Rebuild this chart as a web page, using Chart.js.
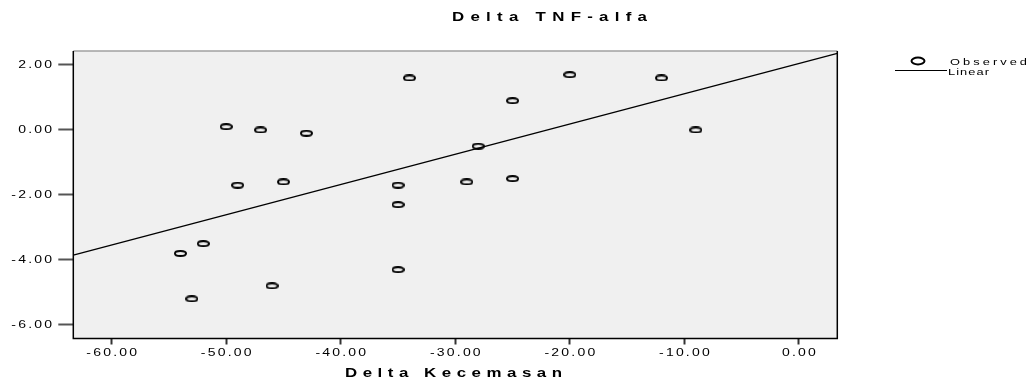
<!DOCTYPE html>
<html>
<head>
<meta charset="utf-8">
<title>Delta TNF-alfa</title>
<script src="https://cdn.jsdelivr.net/npm/chart.js@4.4.1/dist/chart.umd.min.js"></script>
<style>
  html, body { margin: 0; padding: 0; background: #fff; }
  canvas { display: block; }
</style>
</head>
<body>
<canvas id="scatterChart" width="1034" height="385"></canvas>
<script>
const chartTitle = "Delta TNF-alfa";
const xAxisTitle = "Delta Kecemasan";
const legendLabels = ["Observed", "Linear"];

// Observed points: Delta Kecemasan (x) vs Delta TNF-alfa (y)
const kecemasan = [-54, -53, -52, -50, -49, -47, -46, -45, -43, -35, -35, -35, -34, -29, -28, -25, -25, -20, -12, -9];
const tnfAlfa = [-3.8, -5.2, -3.5, 0.1, -1.7, 0.0, -4.8, -1.6, -0.1, -1.7, -2.3, -4.3, 1.6, -1.6, -0.5, 0.9, -1.5, 1.7, 1.6, 0.0];

// Linear fit line, ends read at the plot edges
const fitX = [-63.35, 3.35];
const fitY = [-3.85, 2.36];

const xTicks = [-60, -50, -40, -30, -20, -10, 0];
const yTicks = [-6, -4, -2, 0, 2];
const xRange = [-63.35, 3.35];
const yRange = [-6.42, 2.43];

const FONT = '"Liberation Sans", Arial, sans-serif';

// hollow ellipse used as the point marker
function ellipseMarker(w, h, lw) {
    const c = document.createElement("canvas");
    c.width = w;
    c.height = h;
    const g = c.getContext("2d");
    g.beginPath();
    g.ellipse(w / 2, h / 2, w / 2 - lw / 2, h / 2 - lw / 2, 0, 0, Math.PI * 2);
    g.lineWidth = lw;
    g.strokeStyle = "#000";
    g.stroke();
    return c;
}

// width of text drawn with horizontal stretch sx and extra spacing
function textWidth(ctx, text, sx, spacing) {
    return ctx.measureText(text).width * sx + spacing * (text.length - 1);
}

// SPSS-like wide text: each glyph stretched by sx, then spaced out
function wideText(ctx, text, x, y, sx, spacing, align) {
    const w = textWidth(ctx, text, sx, spacing);
    let cx = x;
    if (align === "center") cx = x - w / 2;
    if (align === "right") cx = x - w;
    ctx.textAlign = "left";
    for (const ch of text) {
        ctx.save();
        ctx.translate(cx, y);
        ctx.scale(sx, 1);
        ctx.fillText(ch, 0, 0);
        ctx.restore();
        cx += ctx.measureText(ch).width * sx + spacing;
    }
}

// stretch text between two x positions
function fitText(ctx, text, x0, x1, y, sx) {
    const spacing = (x1 - x0 - ctx.measureText(text).width * sx) / (text.length - 1);
    wideText(ctx, text, x0, y, sx, spacing, "left");
}

const spssFrame = {
    id: "spssFrame",
    beforeDraw(chart) {
        const { ctx, chartArea: a } = chart;
        ctx.save();
        ctx.fillStyle = "#f0f0f0";
        ctx.fillRect(a.left, a.top, a.right - a.left, a.bottom - a.top);
        ctx.restore();
    },
    afterDatasetsDraw(chart) {
        const { ctx, chartArea: a } = chart;
        ctx.save();
        ctx.lineWidth = 1.5;
        ctx.strokeStyle = "#a0a0a0";
        ctx.beginPath();
        ctx.moveTo(a.left, a.top);
        ctx.lineTo(a.right, a.top);
        ctx.stroke();
        ctx.strokeStyle = "#000";
        ctx.beginPath();
        ctx.moveTo(a.right, a.top);
        ctx.lineTo(a.right, a.bottom);
        ctx.lineTo(a.left, a.bottom);
        ctx.lineTo(a.left, a.top);
        ctx.stroke();
        ctx.restore();
    },
    afterDraw(chart) {
        const ctx = chart.ctx;
        const xs = chart.scales.x, ys = chart.scales.y;
        ctx.save();
        ctx.fillStyle = "#000";

        // tick labels
        ctx.font = "10px " + FONT;
        ctx.textBaseline = "middle";
        yTicks.forEach(v => {
            wideText(ctx, v.toFixed(2), 52, ys.getPixelForValue(v), 1.4, 2.2, "right");
        });
        xTicks.forEach(v => {
            wideText(ctx, v.toFixed(2), xs.getPixelForValue(v), 353, 1.4, 2.2, "center");
        });

        // titles
        ctx.textBaseline = "alphabetic";
        ctx.font = "bold 12.5px " + FONT;
        fitText(ctx, chartTitle, 452, 647, 21, 1.35);
        fitText(ctx, xAxisTitle, 345, 562, 376.5, 1.35);

        // legend
        ctx.strokeStyle = "#000";
        ctx.lineWidth = 2;
        ctx.beginPath();
        ctx.ellipse(918, 61, 6.5, 3.4, 0, 0, Math.PI * 2);
        ctx.stroke();
        ctx.lineWidth = 1.2;
        ctx.beginPath();
        ctx.moveTo(895, 70.5);
        ctx.lineTo(947, 70.5);
        ctx.stroke();
        ctx.font = "9.5px " + FONT;
        fitText(ctx, legendLabels[0], 950, 1027, 64.5, 1.35);
        fitText(ctx, legendLabels[1], 948, 989, 74.5, 1.35);
        ctx.restore();
    }
};

const ctx = document.getElementById("scatterChart").getContext("2d");
new Chart(ctx, {
    type: "scatter",
    data: {
        datasets: [{
            label: legendLabels[0],
            data: kecemasan.map((x, i) => ({ x: x, y: tnfAlfa[i] })),
            pointStyle: ellipseMarker(13, 7, 2),
            pointRadius: 6,
            pointHoverRadius: 6,
            showLine: false
        }, {
            type: "line",
            label: legendLabels[1],
            data: fitX.map((x, i) => ({ x: x, y: fitY[i] })),
            borderColor: "#000",
            borderWidth: 1.3,
            pointRadius: 0,
            fill: false
        }]
    },
    options: {
        responsive: false,
        animation: false,
        devicePixelRatio: 1,
        layout: { padding: { left: 73.3, right: 196.7, top: 51, bottom: 46.5 } },
        plugins: {
            legend: { display: false },
            title: { display: false },
            tooltip: { enabled: false }
        },
        scales: {
            x: {
                type: "linear",
                min: xRange[0],
                max: xRange[1],
                afterBuildTicks: s => { s.ticks = xTicks.map(v => ({ value: v })); },
                afterFit: s => { s.height = 0; },
                ticks: { display: false },
                grid: { drawOnChartArea: false, drawTicks: true, tickLength: 6, tickWidth: 2, tickColor: "#333" },
                border: { display: false }
            },
            y: {
                type: "linear",
                min: yRange[0],
                max: yRange[1],
                afterBuildTicks: s => { s.ticks = yTicks.map(v => ({ value: v })); },
                afterFit: s => { s.width = 0; },
                ticks: { display: false },
                grid: { drawOnChartArea: false, drawTicks: true, tickLength: 15, tickWidth: 2, tickColor: "#555" },
                border: { display: false }
            }
        }
    },
    plugins: [spssFrame]
});
</script>
</body>
</html>
